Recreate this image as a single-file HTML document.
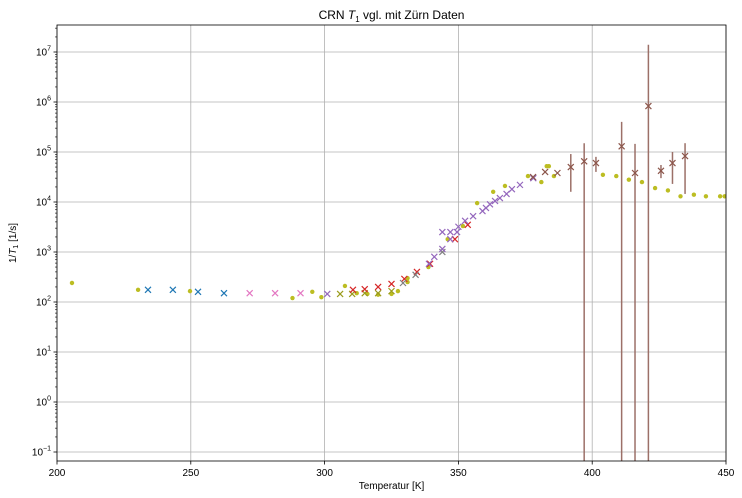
<!DOCTYPE html>
<html><head><meta charset="utf-8"><style>
html,body{margin:0;padding:0;background:#fff;width:742px;height:498px;overflow:hidden;}
svg{display:block;font-family:"Liberation Sans","DejaVu Sans",sans-serif;}
</style></head><body>
<svg id="chart" width="742" height="498"></svg>
<script>
const xTicks=[200,250,300,350,400,450];
const yExps=[-1,0,1,2,3,4,5,6,7];
const olivePoints=[[205.6,240],[230.3,175],[249.7,165],[288,120],[295.4,160],[298.8,125],[307.6,210],[312,150],[316,145],[320,140],[325,145],[327.4,165],[331,300],[331,250],[338.8,500],[346,1800],[351.7,3300],[357,9500],[363,16000],[367.4,21000],[376,33000],[381,25000],[383,52000],[383.8,52000],[385.7,33000],[404,35000],[409,33000],[413.7,28000],[418.6,25000],[423.5,19000],[428.3,17000],[433,13000],[438,14000],[442.5,13000],[447.8,13000],[449.5,13000]];
const blueT=[234,243.3,252.7,262.4];
const blueV=[175,175,160,150];
const pinkT=[272,281.5,291];
const pinkV=[150,150,150];
const oliveXT=[305.8,310.3,315,320,325];
const oliveXV=[145,145,150,150,165];
const redT=[310.6,315,320,325,329.8,334.5,339.4,348.7,353.5];
const redV=[175,180,200,230,290,400,580,1800,3500];
const greyT=[329.3,334,344];
const greyV=[240,350,1000];
const purpleT=[301,339,341,344,344,347,347,349.5,350,352.5,355.5,359,360.3,361.8,363.7,365.5,368,370,373,378];
const purpleV=[145,580,800,1150,2500,1800,2500,2500,3200,4200,5200,6600,7600,9000,10500,12000,14500,18000,22000,30000];
const brownT=[377.9,382.4,387,392,397,401.4,411,416,421,425.7,430,434.7];
const brownV=[31600,40000,38000,50000,65000,60000,130000,38000,830000,42000,60000,83000];
const brownLo=[31600,40000,38000,16000,0,40000,0,0,0,30000,23000,14500];
const brownHi=[31600,40000,38000,91000,150000,80000,400000,145000,14000000,55000,100000,150000];

const L=57,R=726,T=25,B=461;
const xs=t=>L+(t-200)/250*(R-L);
const ys=v=>{let lv=v<=0?-1.2:Math.log10(v);lv=Math.max(-1.2,Math.min(7.55,lv));return 302-(lv-2)*50;};
const svg=document.getElementById('chart');
const NS='http://www.w3.org/2000/svg';
function mk(tag,attrs,parent){const e=document.createElementNS(NS,tag);for(const k in attrs)e.setAttribute(k,attrs[k]);(parent||svg).appendChild(e);return e;}
const clip=mk('clipPath',{id:'pc'});mk('rect',{x:L,y:T,width:R-L,height:B-T},clip);
const grid=mk('g',{});


xTicks.forEach(t=>{const x=xs(t);mk('line',{x1:x,x2:x,y1:T,y2:B,stroke:'#b0b0b0','stroke-width':0.8},grid);
 mk('line',{x1:x,x2:x,y1:B,y2:B+3.5,stroke:'#000','stroke-width':0.8});
 const tx=mk('text',{x:x,y:B+15,'font-size':10,'text-anchor':'middle'});tx.textContent=t;
 
 });
yExps.forEach(e=>{const y=ys(Math.pow(10,e));mk('line',{x1:L,x2:R,y1:y,y2:y,stroke:'#b0b0b0','stroke-width':0.8},grid);
 mk('line',{x1:L-3.5,x2:L,y1:y,y2:y,stroke:'#000','stroke-width':0.8});
 const tx=mk('text',{x:L-6,y:y+3.5,'font-size':10,'text-anchor':'end'});
 tx.innerHTML='10<tspan dy="-5" font-size="7">'+(e<0?'−'+(-e):e)+'</tspan>';
 
 
 for(let m=2;m<10;m++){const lv=e+Math.log10(m);const ym=302-(lv-2)*50;if(ym>T&&ym<B)mk('line',{x1:L-2,x2:L,y1:ym,y2:ym,stroke:'#000','stroke-width':0.6});}
});
const pg=mk('g',{'clip-path':'url(#pc)'});


function xm(t,v,c,name){const x=xs(t),y=ys(v),s=3;const g=mk('g',{stroke:c,'stroke-width':1.2},pg);
 
 
 mk('line',{x1:x-s,y1:y-s,x2:x+s,y2:y+s},g);mk('line',{x1:x-s,y1:y+s,x2:x+s,y2:y-s},g);}
olivePoints.forEach(p=>{const c=mk('circle',{cx:xs(p[0]),cy:ys(p[1]),r:2.2,fill:'#bcbd22'},pg);
 
 });
blueT.forEach((t,i)=>xm(t,blueV[i],'#1f77b4','blue-marker'));
pinkT.forEach((t,i)=>xm(t,pinkV[i],'#e377c2','pink-marker'));
oliveXT.forEach((t,i)=>xm(t,oliveXV[i],'#9a9b1c','olive-marker'));
redT.forEach((t,i)=>xm(t,redV[i],'#d62728','red-marker'));
greyT.forEach((t,i)=>xm(t,greyV[i],'#7f7f7f','grey-marker'));
purpleT.forEach((t,i)=>xm(t,purpleV[i],'#9467bd','purple-marker'));
brownT.forEach((t,i)=>{const x=xs(t);const l=mk('line',{x1:x,x2:x,y1:ys(brownLo[i]),y2:ys(brownHi[i]),stroke:'#9c7068','stroke-width':1.5},pg);
 
 
 xm(t,brownV[i],'#8c564b','brown-marker');});
mk('rect',{x:L,y:T,width:R-L,height:B-T,fill:'none',stroke:'#000','stroke-width':0.8});
const title=mk('text',{x:(L+R)/2,y:19,'font-size':12,'text-anchor':'middle'});
title.innerHTML='CRN <tspan font-style="italic">T</tspan><tspan font-size="8" dy="3">1</tspan><tspan dy="-3"> vgl. mit Zürn Daten</tspan>';


const xl=mk('text',{x:(L+R)/2,y:489,'font-size':10,'text-anchor':'middle'});xl.textContent='Temperatur [K]';


const yl=mk('text',{x:0,y:0,'font-size':10,'text-anchor':'middle',transform:'translate(16,'+((T+B)/2)+') rotate(-90)'});
yl.innerHTML='1/<tspan font-style="italic">T</tspan><tspan font-size="7" dy="2">1</tspan><tspan dy="-2"> [1/s]</tspan>';


</script>
</body></html>
